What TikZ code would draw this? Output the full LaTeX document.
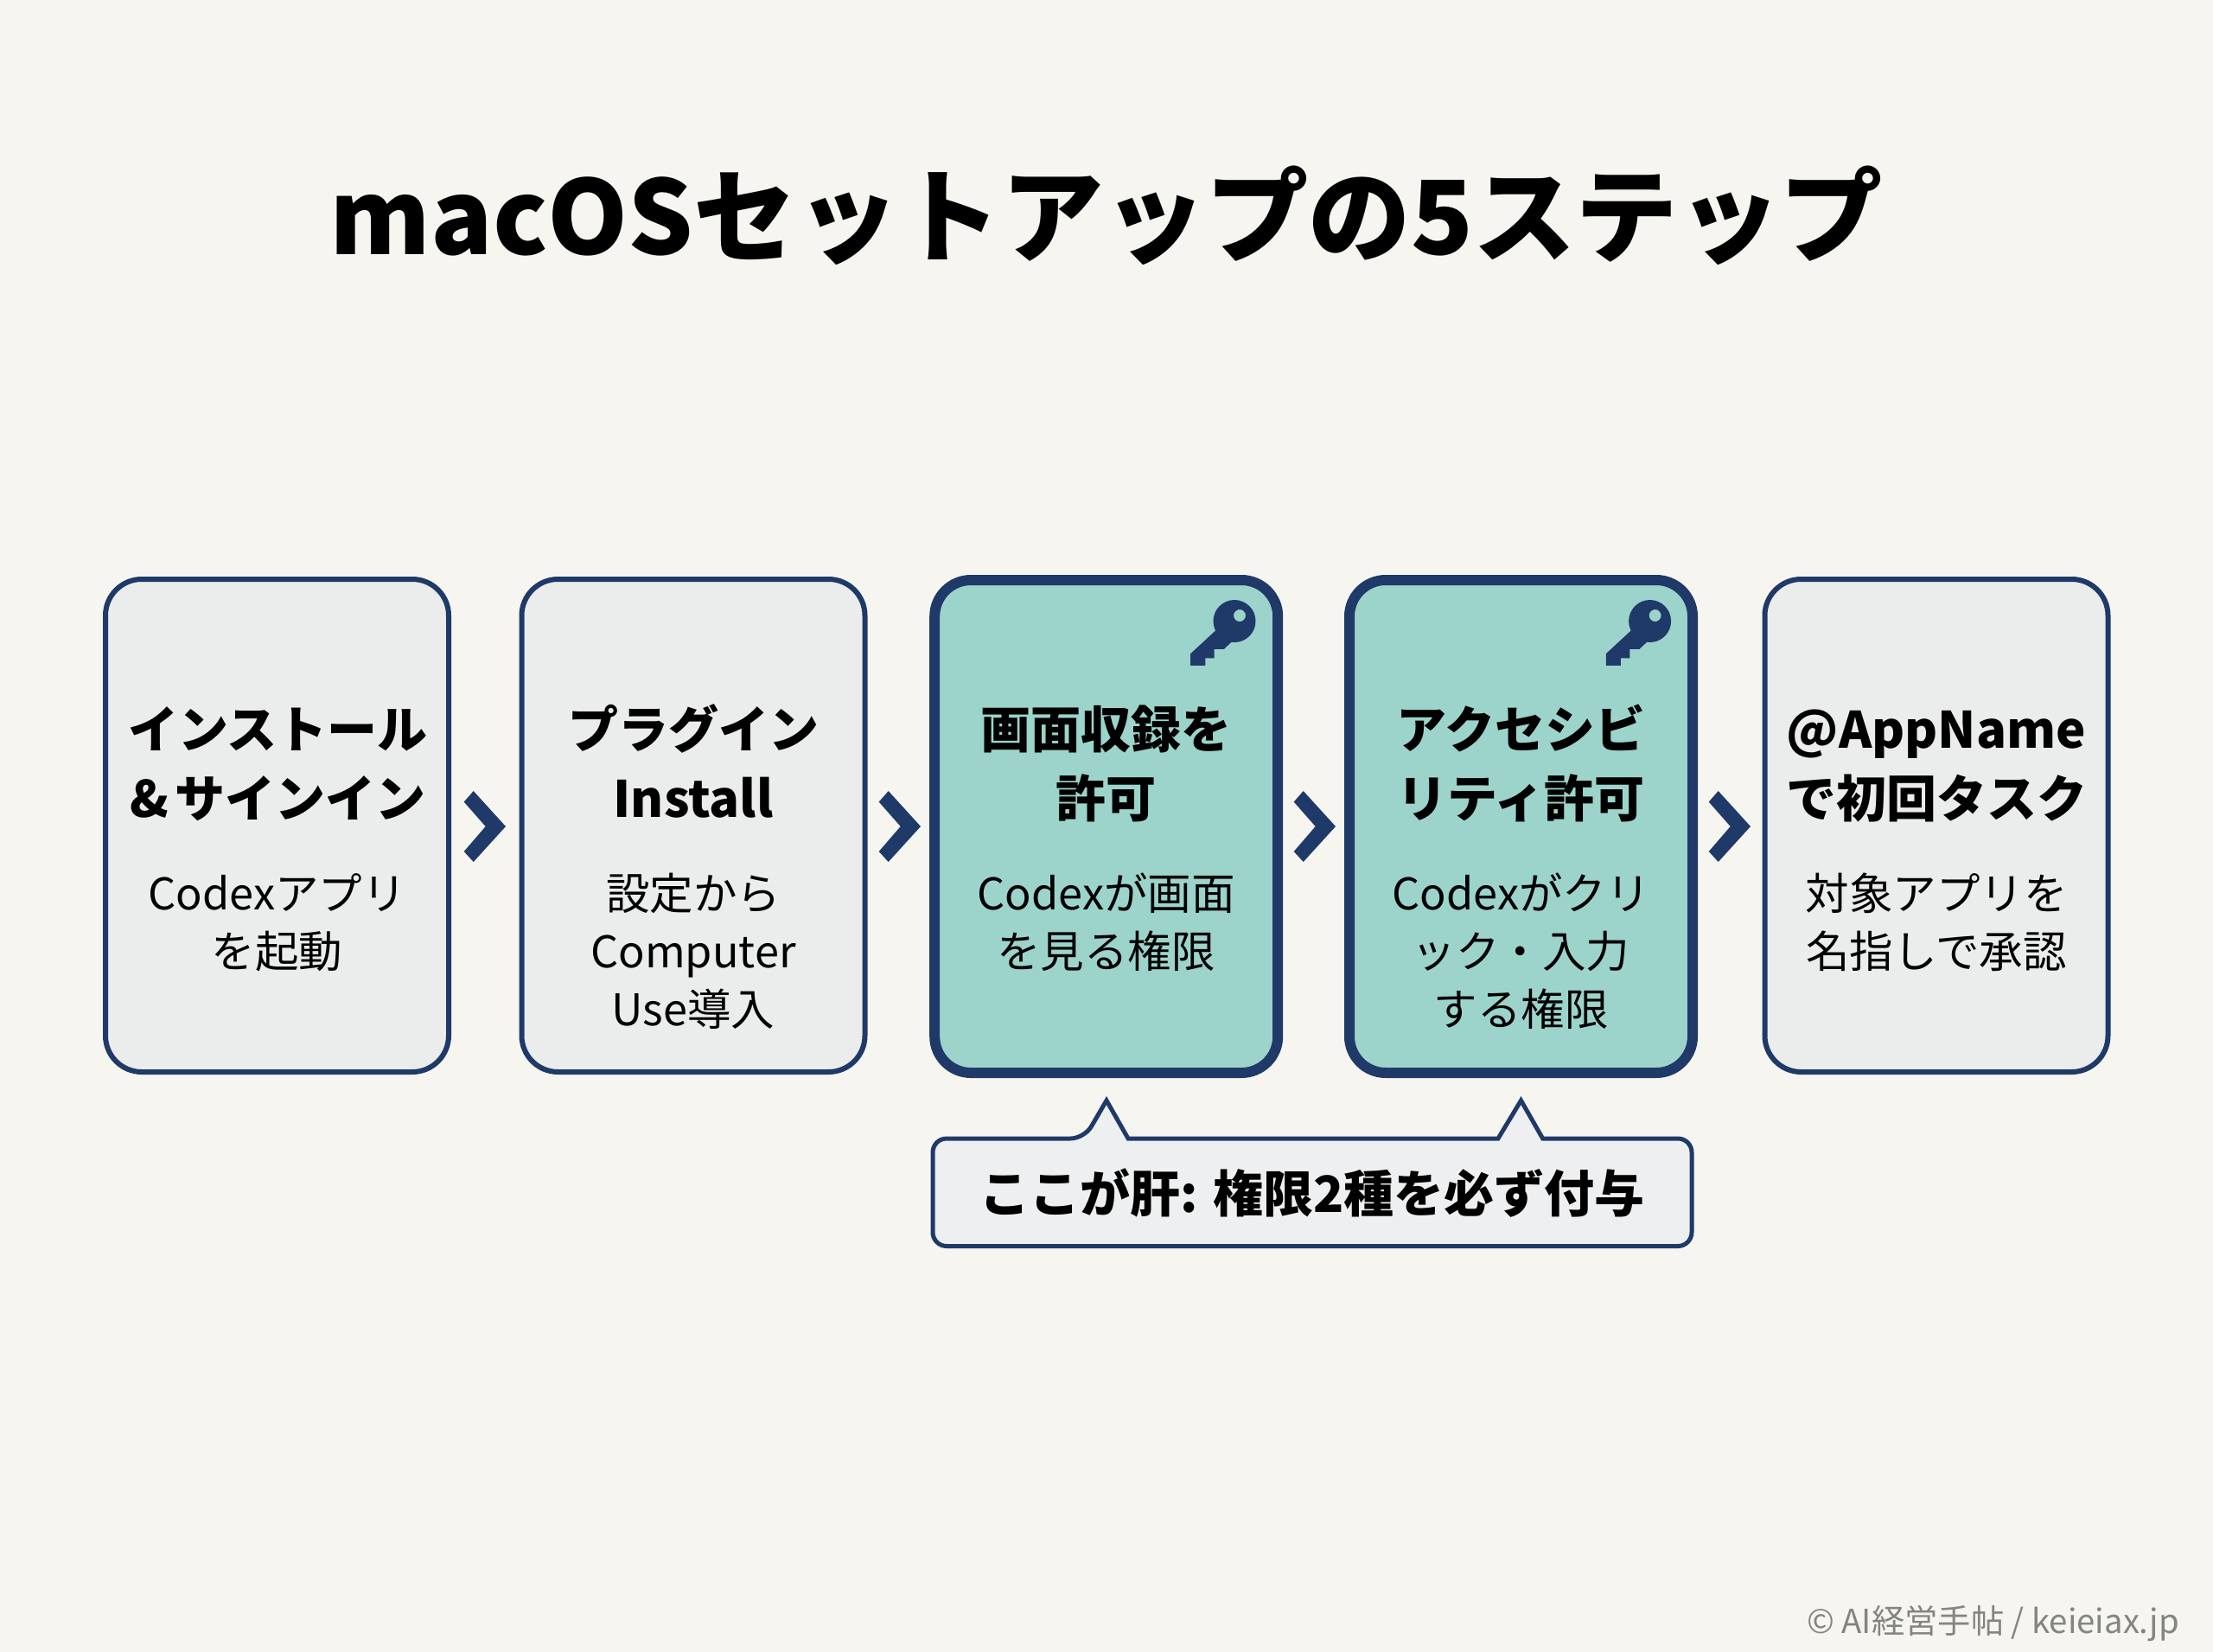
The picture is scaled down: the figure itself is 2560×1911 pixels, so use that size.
\documentclass[tikz,border=0pt]{standalone}
\usepackage{fontspec}
\setmainfont{Noto Sans CJK JP}
\definecolor{bgc}{HTML}{F6F5F0}
\definecolor{navy}{HTML}{1F3A68}
\definecolor{greyfill}{HTML}{EBECEC}
\definecolor{teal}{HTML}{9CD4CB}
\definecolor{callfill}{HTML}{EEEFF0}
\definecolor{footc}{HTML}{85857F}
\newcommand{\fl}{\rule{0pt}{70pt}}
\tikzset{
  x=1pt,y=-1pt,
  stepbox/.style={draw=navy,line width=6pt,fill=greyfill,rounded corners=42pt,minimum width=397pt,minimum height=570pt,inner sep=0pt,anchor=center},
  keybox/.style={stepbox,line width=12pt,fill=teal,minimum height=570pt},
  headtxt/.style={inner sep=0pt,anchor=north,align=center,font=\fontsize{58}{80}\selectfont\bfseries},
  bodytxt/.style={inner sep=0pt,anchor=north,align=center,font=\fontsize{50.5}{67}\selectfont},
  chev/.style={fill=navy,draw=none},
  callout/.style={draw=navy,line width=5pt,fill=callfill,rounded corners=16pt,line join=miter},
}
\newcommand{\chevat}[1]{\fill[chev,shift={(#1,1)}] (536.7,926.6)--(547.7,914)--(585,955)--(547.7,996)--(536.7,984)--(561.7,955)--cycle;}
\newcommand{\keyat}[1]{%
  \fill[navy,even odd rule,shift={(#1,718.5)}] (0,0) circle[radius=24.5pt] (6,-6.5) circle[radius=7pt];
  \fill[navy,shift={(#1,718.5)}] (-21.4,10.5)--(-50.8,37.7)--(-50.8,51.3)--(-33.7,51.3)--(-33.7,42.9)--(-23.3,42.9)--(-23.3,32.4)--(-12.2,32.4)--(0,21)--cycle;}
\begin{document}
\begin{tikzpicture}
\useasboundingbox (0,0) rectangle (2560,1911);
\fill[bgc] (0,0) rectangle (2560,1911);
\node[inner sep=0pt,anchor=base,font=\fontsize{118.5}{130}\selectfont\bfseries] (title) at (1280,294) {macOSセットアップの5ステップ};

\node[stepbox] (b1) at (320.5,955) {};
\node[stepbox] (b2) at (802,955) {};
\node[keybox] (b3) at (1279.7,956) {};
\node[keybox] (b4) at (1759.5,956) {};
\node[stepbox] (b5) at (2240,955) {};

\keyat{1428}
\keyat{1908.6}

\node[headtxt] (h1) at (321.5,795) {\fl インストール\\\&\hspace{7pt}サインイン};
\node[headtxt] (h2) at (802,795) {\fl プラグイン\\Install};
\node[headtxt] (h3) at (1279.7,795) {\fl 画面収録を\\許可};
\node[headtxt] (h4) at (1759.5,795) {\fl アクセシビ\\リティ許可};
\node[headtxt] (h5) at (2240,795) {\fl @AppName\\で初回タスク};

\node[bodytxt] (t1) at (320.5,982) {\fl Codexアプリ\\を起動};
\node[bodytxt] (t2) at (802,982) {\fl 設定から\\Computer\\Use導入};
\node[bodytxt] (t3) at (1279.7,982) {\fl Codexが画面\\を見る権限};
\node[bodytxt] (t4) at (1759.5,982) {\fl Codexがクリ\\ック・入力\\する権限};
\node[bodytxt] (t5) at (2240,982) {\fl 対象アプリを\\名指しで承認};

\chevat{0}
\chevat{480}
\chevat{960}
\chevat{1440}

\draw[callout] (1079,1317) -- (1254.3,1317) [sharp corners] -- (1280,1273) -- (1305,1317) -- (1733,1317) -- (1759.5,1273) -- (1784.6,1317) [rounded corners=16pt] -- (1957,1317) -- (1957,1441.5) -- (1079,1441.5) -- cycle;
\node[inner sep=0pt,anchor=base,font=\fontsize{58}{70}\selectfont\bfseries] (ct) at (1518,1402) {ここが肝: 権限2種を必ず付与};
\node[inner sep=0pt,anchor=base east,text=footc,font=\fontsize{38.3}{40}\selectfont] (foot) at (2521,1889) {© AI経営手帖 / keieiax.jp};
\end{tikzpicture}
\end{document}
